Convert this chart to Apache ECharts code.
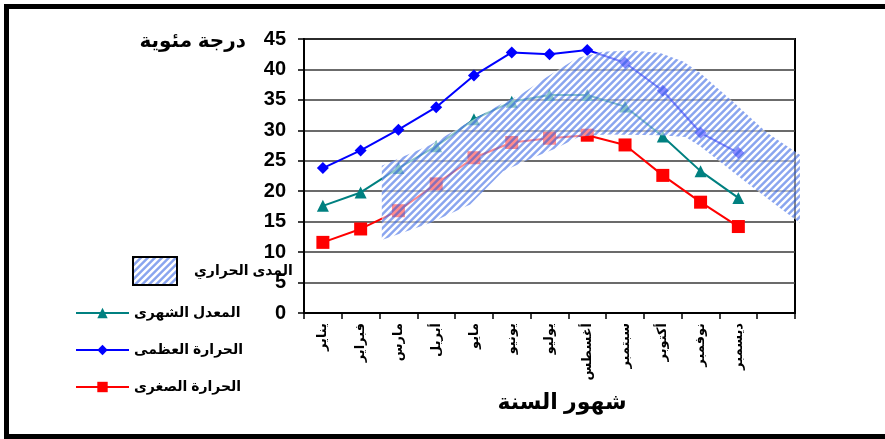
<!DOCTYPE html>
<html>
<head>
<meta charset="utf-8">
<script src="https://cdn.jsdelivr.net/npm/echarts@6/dist/echarts.min.js"></script>
<style>
  html, body { margin: 0; padding: 0; background: #fff; }
  #chart { width: 885px; height: 439px; }
</style>
</head>
<body>
<div id="chart"></div>
<script>
// Months (13th slot left empty, as on the axis)
const months = ['يناير', 'فبراير', 'مارس', 'أبريل', 'مايو', 'يونيو', 'يوليو', 'أغسطس', 'سبتمبر', 'أكتوبر', 'نوفمبر', 'ديسمبر', ''];

// Monthly temperatures (°C)
const tempMax  = [23.8, 26.7, 30.1, 33.8, 39.0, 42.8, 42.5, 43.2, 41.1, 36.5, 29.6, 26.3];
const tempMean = [17.6, 19.8, 23.8, 27.4, 31.8, 34.7, 35.8, 35.8, 33.9, 29.0, 23.3, 18.9];
const tempMin  = [11.6, 13.8, 16.8, 21.2, 25.5, 28.0, 28.7, 29.2, 27.6, 22.6, 18.2, 14.2];

// Temperature range band: upper edge (left to right) and lower edge (right to left),
// x given as fractional month position
const bandUpperX = [1.56, 2.84, 3.90, 4.77, 5.22, 5.94, 6.73, 7.40, 8.20, 8.93, 9.54, 9.99, 10.86, 11.76, 12.63];
const bandUpperY = [24.2, 27.6, 31.5, 34.5, 35.8, 38.8, 41.9, 42.9, 43.1, 42.7, 41.3, 39.4, 34.7, 29.6, 26.0];
const bandLowerX = [12.63, 11.92, 11.12, 9.99, 9.60, 8.93, 7.50, 6.80, 6.16, 5.56, 4.77, 3.90, 2.84, 1.56];
const bandLowerY = [14.8, 18.1, 21.9, 27.4, 28.9, 29.2, 29.3, 29.0, 27.0, 25.5, 23.3, 17.8, 14.8, 12.0];

const yTicks = { min: 0, max: 45, interval: 5 };

const FONT = "'Liberation Sans', Arial, 'DejaVu Sans', sans-serif";

// Diagonal blue/white hatch used for the range band
function hatchPattern() {
  const n = 7, ss = 4;
  const c = document.createElement('canvas');
  c.width = n; c.height = n;
  const ctx = c.getContext('2d');
  const img = ctx.createImageData(n, n);
  const blue = [105, 140, 235], white = [255, 255, 255];
  for (let y = 0; y < n; y++) {
    for (let x = 0; x < n; x++) {
      let w = 0;
      for (let sy = 0; sy < ss; sy++) {
        for (let sx = 0; sx < ss; sx++) {
          const d = ((x + (sx + 0.5) / ss) + (y + (sy + 0.5) / ss)) % n;
          if (d < n * 0.5) w++;
        }
      }
      w /= ss * ss;
      const a = w * 0.78 + (1 - w) * 0.55;
      const i = (y * n + x) * 4;
      for (let k = 0; k < 3; k++) {
        img.data[i + k] = Math.round((w * 0.78 * blue[k] + (1 - w) * 0.55 * white[k]) / a);
      }
      img.data[i + 3] = Math.round(a * 255);
    }
  }
  ctx.putImageData(img, 0, 0);
  return c;
}
const hatch = { image: hatchPattern(), repeat: 'repeat' };

const chart = echarts.init(document.getElementById('chart'), null, { renderer: 'canvas' });

const labelBold = { fontFamily: FONT, fontWeight: 'bold', color: '#000' };

chart.setOption({
  animation: false,
  backgroundColor: '#fff',
  grid: {
    left: 304, right: 90, top: 39, bottom: 126,
    show: true, borderColor: '#000', borderWidth: 2
  },
  xAxis: [{
    type: 'category',
    data: months,
    boundaryGap: true,
    axisLine: { lineStyle: { color: '#000', width: 2 } },
    axisTick: { show: true, interval: 0, length: 6, lineStyle: { color: '#000', width: 1.5 } },
    axisLabel: Object.assign({ interval: 0, rotate: 90, fontSize: 13, margin: 10 }, labelBold),
    splitLine: { show: false }
  }, {
    type: 'value',
    min: -0.5, max: 12.5,
    show: false
  }],
  yAxis: {
    type: 'value',
    min: yTicks.min, max: yTicks.max, interval: yTicks.interval,
    axisLine: { show: true, onZero: false, lineStyle: { color: '#000', width: 2 } },
    axisTick: { show: true, length: 6, lineStyle: { color: '#000', width: 1.5 } },
    axisLabel: Object.assign({ fontSize: 20, margin: 18 }, labelBold),
    splitLine: { show: true, lineStyle: { color: '#3a3a3a', width: 1.5 } }
  },
  legend: [{
    left: 127, top: 251,
    itemWidth: 44, itemHeight: 28,
    textStyle: Object.assign({ fontSize: 14, padding: [0, 0, 0, 12] }, labelBold),
    data: [{ name: 'المدى الحراري', icon: 'rect', itemStyle: { color: hatch, borderColor: '#000', borderWidth: 2 } }]
  }, {
    orient: 'vertical',
    left: 70, top: 301,
    itemWidth: 53, itemHeight: 13, itemGap: 23,
    textStyle: Object.assign({ fontSize: 14 }, labelBold),
    data: ['المعدل الشهرى', 'الحرارة العظمى', 'الحرارة الصغرى']
  }],
  graphic: [{
    type: 'rect',
    shape: { x: 6.5, y: 6.5, width: 900, height: 430 },
    style: { fill: 'none', stroke: '#000', lineWidth: 5 },
    silent: true
  }, {
    type: 'text',
    x: 246, y: 41,
    style: {
      text: 'درجة مئوية', fontSize: 20, fontWeight: 'bold', fontFamily: FONT,
      fill: '#000', align: 'right', verticalAlign: 'middle'
    }
  }, {
    type: 'text',
    x: 562, y: 403,
    style: {
      text: 'شهور السنة', fontSize: 22, fontWeight: 'bold', fontFamily: FONT,
      fill: '#000', align: 'center', verticalAlign: 'middle'
    }
  }],
  series: [{
    name: 'المعدل الشهرى',
    type: 'line',
    data: tempMean,
    symbol: 'triangle', symbolSize: 12,
    lineStyle: { color: '#008080', width: 2 },
    itemStyle: { color: '#008080' },
    z: 2
  }, {
    name: 'الحرارة العظمى',
    type: 'line',
    data: tempMax,
    symbol: 'diamond', symbolSize: 12,
    lineStyle: { color: '#0000ff', width: 2 },
    itemStyle: { color: '#0000ff' },
    z: 2
  }, {
    name: 'الحرارة الصغرى',
    type: 'line',
    data: tempMin,
    symbol: 'rect', symbolSize: 13,
    lineStyle: { color: '#ff0000', width: 2 },
    itemStyle: { color: '#ff0000' },
    z: 2
  }, {
    name: 'المدى الحراري',
    type: 'custom',
    xAxisIndex: 1,
    data: [[0, 0]],
    itemStyle: { color: hatch },
    z: 5,
    silent: true,
    renderItem: function (params, api) {
      const pts = [];
      for (let i = 0; i < bandUpperX.length; i++) pts.push(api.coord([bandUpperX[i], bandUpperY[i]]));
      for (let i = 0; i < bandLowerX.length; i++) pts.push(api.coord([bandLowerX[i], bandLowerY[i]]));
      return {
        type: 'polygon',
        shape: { points: pts },
        style: { fill: hatch, stroke: null }
      };
    }
  }]
});
</script>
</body>
</html>
